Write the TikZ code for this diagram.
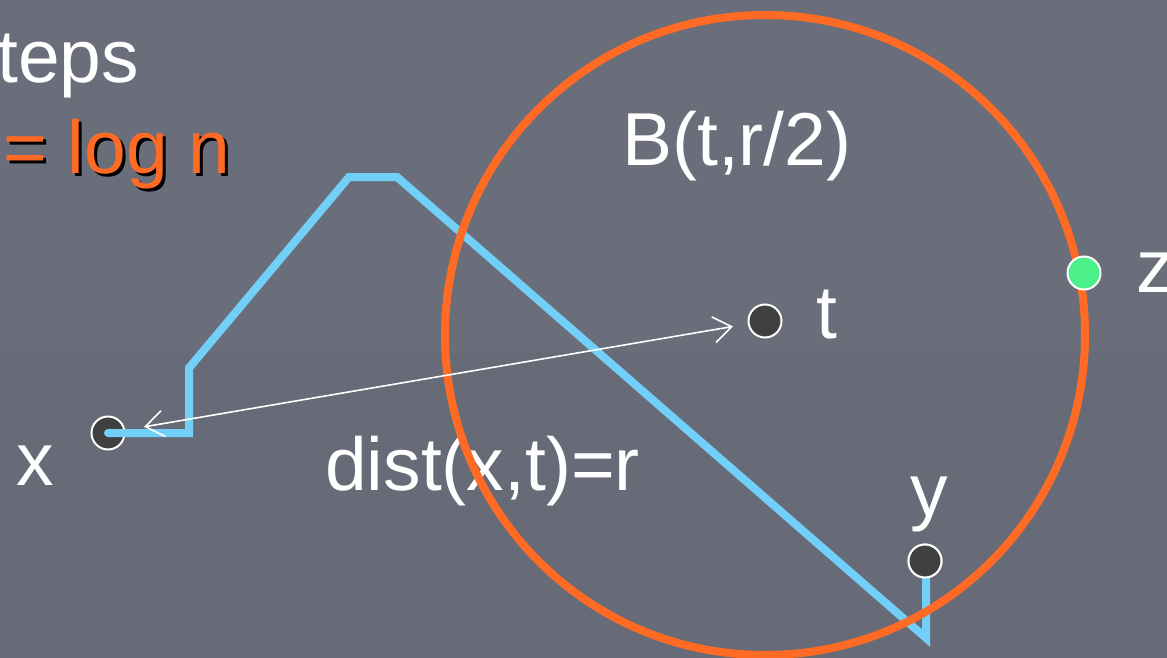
\documentclass[tikz,border=0pt]{standalone}
\usepackage{fontspec}
\setmainfont{Liberation Sans}
\usetikzlibrary{arrows.meta}
\definecolor{bgtop}{HTML}{6A6D7A}
\definecolor{bgbot}{HTML}{676A77}
\definecolor{ballorange}{HTML}{FF6A24}
\definecolor{pathblue}{HTML}{72D0F8}
\definecolor{dotgray}{HTML}{404040}
\definecolor{zgreen}{HTML}{4CF08A}
\tikzset{
  lbl/.style={text=white, inner sep=0pt, font=\fontsize{75}{82}\selectfont},
  dotnode/.style={circle, fill=dotgray, draw=white, line width=2pt, minimum size=33pt, inner sep=0pt},
  greendot/.style={dotnode, fill=zgreen},
  bluepath/.style={draw=pathblue, line width=8pt, line join=miter, line cap=round},
  ballstyle/.style={draw=ballorange, line width=8pt},
  distarrow/.style={draw=white, line width=1.6pt, {Straight Barb[length=18pt,width=26pt]}-{Straight Barb[length=18pt,width=26pt]}}
}
\begin{document}
\begin{tikzpicture}[x=1pt,y=-1pt]
\useasboundingbox (0,0) rectangle (1167,658);
\fill[bgtop] (0,0) rectangle (1167,352);
\fill[bgbot] (0,352) rectangle (1167,658);
% labels
\node[lbl, anchor=base west] (steps) at (-3,83) {teps};
\node[lbl, anchor=base west, text=black] (logshadow) at (6,176) {= log n};
\node[lbl, anchor=base west, text=ballorange] (logn) at (3,173) {= log n};
\node[lbl, anchor=base west] (blabel) at (622,165) {B(t,r/2)};
\node[lbl, anchor=base west] (tlabel) at (816,338) {t};
\node[lbl, anchor=base west] (zlabel) at (1136,292) {z};
\node[lbl, anchor=base west] (xlabel) at (16,485) {x};
\node[lbl, anchor=base west] (distlabel) at (325,490) {dist(x,t)=r};
\node[lbl, anchor=base] (ylabel) at (929,516) {y};
% x dot
\node[dotnode] (xd) at (108,433) {};
% blue path
\coordinate (p1) at (189,433);
\coordinate (p2) at (189,368);
\coordinate (p3) at (349,177);
\coordinate (p4) at (397,177);
\coordinate (p5) at (926,638);
\node[dotnode] (yd) at (925,561) {};
\draw[bluepath] (xd.center) -- (p1) -- (p2) -- (p3) -- (p4) -- (p5) -- (p5 |- yd.south);
% ball
\node[ballstyle, circle, minimum size=640pt, inner sep=0pt] (ball) at (765,335) {};
\node[dotnode] (yd2) at (925,561) {};
\node[dotnode] (td) at (765,321) {};
\node[greendot] (zd) at (1084,273) {};
% distance arrow
\draw[distarrow, shorten <=19pt, shorten >=15pt] (xd) -- (td);
\end{tikzpicture}
\end{document}
